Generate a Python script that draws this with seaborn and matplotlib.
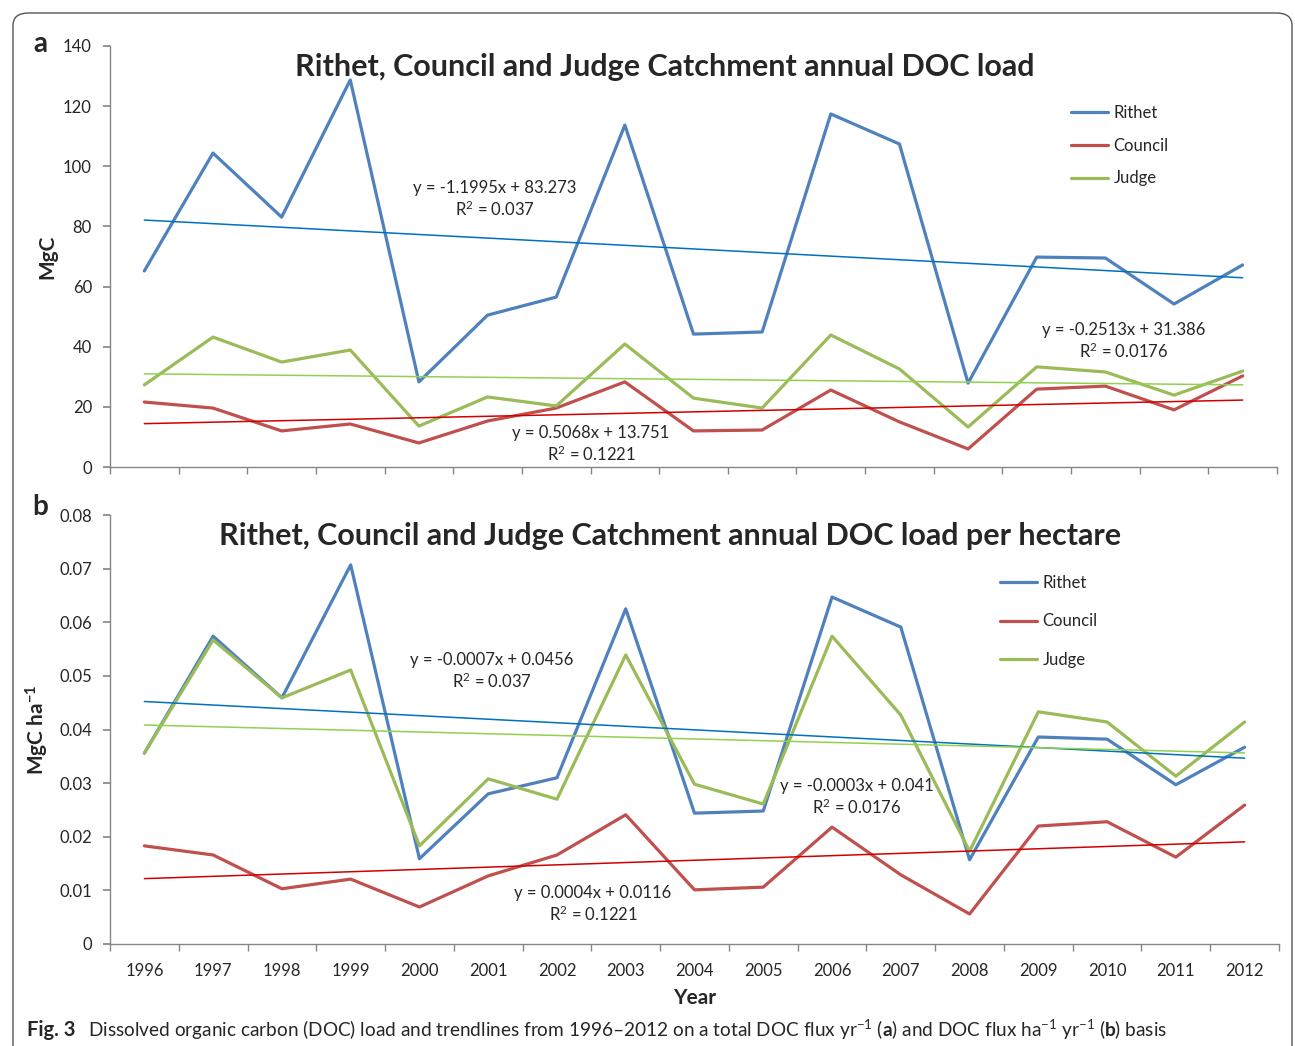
import numpy as np
import pandas as pd
import matplotlib.pyplot as plt
import seaborn as sns
from matplotlib.patches import FancyBboxPatch
from matplotlib.ticker import FixedLocator

# === Data ===
years = list(range(1996, 2013))
sites = ["Rithet", "Council", "Judge"]

rithet_load = [65.2, 104.4, 83.1, 128.7, 28.3, 50.5, 56.5, 113.7, 44.2, 44.9,
               117.4, 107.4, 27.9, 69.8, 69.5, 54.2, 67.2]
council_load = [21.6, 19.6, 12.0, 14.3, 8.0, 15.3, 19.6, 28.3, 12.0, 12.3,
                25.6, 15.0, 6.0, 25.9, 26.9, 19.0, 30.3]
judge_load = [27.3, 43.2, 34.9, 38.9, 13.6, 23.3, 20.3, 40.9, 22.9, 19.6,
              43.9, 32.6, 13.3, 33.3, 31.6, 23.9, 31.9]

rithet_ha = [0.0356, 0.0574, 0.0459, 0.0707, 0.0159, 0.0280, 0.0310, 0.0625, 0.0244,
             0.0248, 0.0647, 0.0591, 0.0157, 0.0386, 0.0382, 0.0297, 0.0367]
council_ha = [0.0183, 0.0166, 0.0103, 0.0121, 0.0069, 0.0127, 0.0166, 0.0241, 0.0101,
              0.0106, 0.0218, 0.0129, 0.0056, 0.0220, 0.0228, 0.0162, 0.0259]
judge_ha = [0.0356, 0.0567, 0.0459, 0.0511, 0.0183, 0.0308, 0.0270, 0.0539, 0.0298,
            0.0261, 0.0574, 0.0427, 0.0173, 0.0433, 0.0414, 0.0313, 0.0414]

eq_a = {"Rithet": ("y = -1.1995x + 83.273", "R$^2$ = 0.037"),
        "Council": ("y = 0.5068x + 13.751", "R$^2$ = 0.1221"),
        "Judge": ("y = -0.2513x + 31.386", "R$^2$ = 0.0176")}
eq_b = {"Rithet": ("y = -0.0007x + 0.0456", "R$^2$ = 0.037"),
        "Council": ("y = 0.0004x + 0.0116", "R$^2$ = 0.1221"),
        "Judge": ("y = -0.0003x + 0.041", "R$^2$ = 0.0176")}

line_colors = {"Rithet": "#4F81BD", "Council": "#C0504D", "Judge": "#9BBB59"}
trend_colors = {"Rithet": "#0070C0", "Council": "#D00000", "Judge": "#92D050"}

# === Theme ===
sns.set_theme(style="white")
plt.rcParams['font.family'] = ['Lato', 'DejaVu Sans']
plt.rcParams['mathtext.fontset'] = 'custom'
plt.rcParams['mathtext.rm'] = 'Lato'
plt.rcParams['mathtext.it'] = 'Lato:italic'
plt.rcParams['mathtext.bf'] = 'Lato:bold'

W, H = 1295, 1046
fig = plt.figure(figsize=(W / 100, H / 100), dpi=100)


def fx(px):
    return px / W


def fy(py):
    return 1 - py / H


def make_df(r, c, j):
    return pd.DataFrame({
        "Year": years * 3,
        "value": r + c + j,
        "site": ["Rithet"] * 17 + ["Council"] * 17 + ["Judge"] * 17,
    })


def style_axis(ax, ymax, ystep, fmt, show_xlabels):
    ax.set_xlim(1995.5, 2012.5)
    ax.set_ylim(0, ymax)
    yt = np.round(np.arange(0, ymax + ystep / 2, ystep), 4)
    ax.set_yticks(yt)
    ax.set_yticklabels([fmt(v) for v in yt], fontsize=12)
    ax.set_xticks(years)
    ax.xaxis.set_minor_locator(FixedLocator(np.arange(1995.5, 2013, 1)))
    ax.tick_params(axis='x', which='major', length=0, pad=14, labelsize=12)
    ax.tick_params(axis='x', which='minor', length=5, color='#868686', direction='out', bottom=True)
    ax.tick_params(axis='y', length=5, color='#868686', direction='out', left=True, pad=8)
    if show_xlabels:
        ax.set_xticklabels([str(y) for y in years])
    else:
        ax.set_xticklabels([])
    for s in ['top', 'right']:
        ax.spines[s].set_visible(False)
    for s in ['left', 'bottom']:
        ax.spines[s].set_color('#868686')
        ax.spines[s].set_linewidth(1)


def draw_panel(ax, df):
    sns.lineplot(data=df, x="Year", y="value", hue="site", hue_order=sites,
                 palette=line_colors, linewidth=2.3, ax=ax)
    handles, labels = ax.get_legend_handles_labels()
    for site in sites:
        sub = df[df.site == site]
        sns.regplot(x=sub["Year"], y=sub["value"], scatter=False, ci=None,
                    color=trend_colors[site], line_kws=dict(lw=1.1), ax=ax)
    return handles, labels


# === Panel a ===
ax1 = fig.add_axes([fx(110), fy(467), fx(1277) - fx(110), fy(46) - fy(467)])
h1, l1 = draw_panel(ax1, make_df(rithet_load, council_load, judge_load))
style_axis(ax1, 140, 20, lambda v: f"{int(v)}", False)
ax1.set_xlabel("")
ax1.set_ylabel("MgC", fontsize=15, fontweight='bold', labelpad=4)
ax1.legend(h1, l1, loc='upper left', bbox_to_anchor=(fx(1056), fy(90)),
           bbox_transform=fig.transFigure, frameon=False, fontsize=12,
           handlelength=2.2, handletextpad=0.35, labelspacing=1.0)

# === Panel b ===
ax2 = fig.add_axes([fx(110), fy(944), fx(1279) - fx(110), fy(515) - fy(944)])
h2, l2 = draw_panel(ax2, make_df(rithet_ha, council_ha, judge_ha))
style_axis(ax2, 0.08, 0.01, lambda v: "0" if v == 0 else f"{v:.2f}", True)
ax2.set_xlabel("Year", fontsize=15, fontweight='bold', labelpad=6)
ax2.set_ylabel(r"MgC ha$^{\mathbf{-1}}$", fontsize=15, fontweight='bold', labelpad=6)
ax2.legend(h2, l2, loc='upper left', bbox_to_anchor=(fx(985), fy(560)),
           bbox_transform=fig.transFigure, frameon=False, fontsize=12,
           handlelength=2.2, handletextpad=0.35, labelspacing=1.35)

# === Titles and panel letters ===
fig.text(fx(665), fy(67), "Rithet, Council and Judge Catchment annual DOC load",
         ha='center', va='center', fontsize=22, fontweight='bold')
fig.text(fx(670), fy(536), "Rithet, Council and Judge Catchment annual DOC load per hectare",
         ha='center', va='center', fontsize=22, fontweight='bold')
fig.text(fx(40), fy(44), "a", ha='center', va='center', fontsize=20, fontweight='bold')
fig.text(fx(40), fy(507), "b", ha='center', va='center', fontsize=20, fontweight='bold')

# === Trendline equations ===
pos_a = {"Rithet": (495, 188), "Council": (591, 433), "Judge": (1124, 330)}
pos_b = {"Rithet": (492, 660), "Council": (593, 893), "Judge": (857, 786)}
for eqs, pos in [(eq_a, pos_a), (eq_b, pos_b)]:
    for site in sites:
        x, y = pos[site]
        fig.text(fx(x), fy(y), eqs[site][0], ha='center', va='center', fontsize=12)
        fig.text(fx(x), fy(y + 21), eqs[site][1], ha='center', va='center', fontsize=12)

# === Caption ===
fig.text(fx(27), fy(1030), "Fig. 3", ha='left', va='center', fontsize=14.5, fontweight='bold')
caption = (r"Dissolved organic carbon (DOC) load and trendlines from "
           r"1996–2012 on a total DOC flux yr$^{-1}$ ($\mathbf{a}$) and DOC flux "
           r"ha$^{-1}$ yr$^{-1}$ ($\mathbf{b}$) basis")
fig.text(fx(88), fy(1030), caption, ha='left', va='center', fontsize=13.7)

# === Rounded frame ===
frame = FancyBboxPatch((fx(13), fy(1080)), fx(1292) - fx(13), fy(13) - fy(1080),
                       boxstyle="round,pad=0,rounding_size=0.012",
                       transform=fig.transFigure, fill=False,
                       edgecolor='#555555', linewidth=1.0)
fig.patches.append(frame)

fig.savefig("out.png", dpi=100)
